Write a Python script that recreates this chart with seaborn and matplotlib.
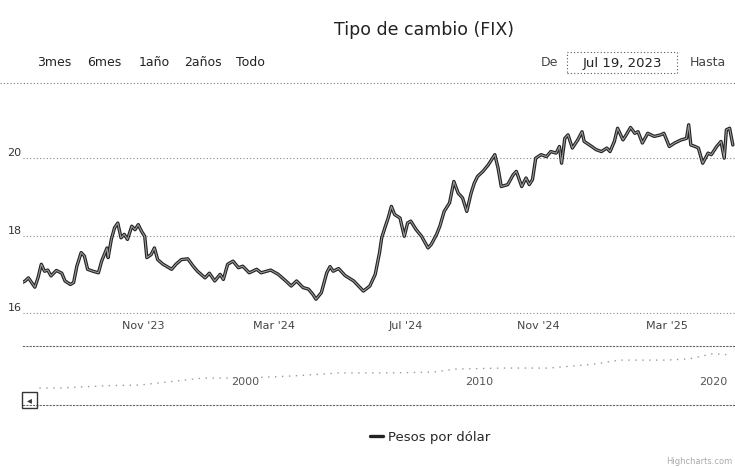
import pandas as pd
import matplotlib.pyplot as plt
import seaborn as sns
from matplotlib.patches import Rectangle
from matplotlib.lines import Line2D

# Tipo de cambio FIX (pesos por dolar)
fechas = [
    "2023-07-12", "2023-07-14", "2023-07-17", "2023-07-23", "2023-07-26", "2023-07-29",
    "2023-08-01", "2023-08-04", "2023-08-07", "2023-08-12", "2023-08-17", "2023-08-20",
    "2023-08-25", "2023-08-28", "2023-08-31", "2023-09-04", "2023-09-07", "2023-09-10",
    "2023-09-15", "2023-09-20", "2023-09-23", "2023-09-28", "2023-09-29", "2023-10-02",
    "2023-10-05", "2023-10-08", "2023-10-11", "2023-10-14", "2023-10-17", "2023-10-21",
    "2023-10-24", "2023-10-27", "2023-10-30", "2023-11-02", "2023-11-04", "2023-11-08",
    "2023-11-11", "2023-11-14", "2023-11-19", "2023-11-27", "2023-12-01", "2023-12-06",
    "2023-12-12", "2023-12-17", "2023-12-21", "2023-12-28", "2024-01-01", "2024-01-06",
    "2024-01-11", "2024-01-14", "2024-01-18", "2024-01-23", "2024-01-28", "2024-02-01",
    "2024-02-07", "2024-02-14", "2024-02-18", "2024-02-27", "2024-03-05", "2024-03-12",
    "2024-03-17", "2024-03-22", "2024-03-28", "2024-04-02", "2024-04-06", "2024-04-09",
    "2024-04-14", "2024-04-19", "2024-04-22", "2024-04-25", "2024-04-30", "2024-05-06",
    "2024-05-14", "2024-05-23", "2024-05-29", "2024-06-03", "2024-06-07", "2024-06-09",
    "2024-06-12", "2024-06-15", "2024-06-18", "2024-06-21", "2024-06-26", "2024-06-30",
    "2024-07-03", "2024-07-06", "2024-07-11", "2024-07-16", "2024-07-22", "2024-07-25",
    "2024-07-30", "2024-08-02", "2024-08-06", "2024-08-11", "2024-08-15", "2024-08-19",
    "2024-08-23", "2024-08-27", "2024-08-31", "2024-09-03", "2024-09-06", "2024-09-11",
    "2024-09-16", "2024-09-20", "2024-09-22", "2024-09-25", "2024-09-28", "2024-10-04",
    "2024-10-09", "2024-10-12", "2024-10-17", "2024-10-21", "2024-10-24", "2024-10-27",
    "2024-10-30", "2024-11-04", "2024-11-09", "2024-11-13", "2024-11-18", "2024-11-21",
    "2024-11-23", "2024-11-26", "2024-11-29", "2024-12-03", "2024-12-08", "2024-12-12",
    "2024-12-14", "2024-12-21", "2024-12-25", "2024-12-30", "2025-01-04", "2025-01-07",
    "2025-01-11", "2025-01-14", "2025-01-19", "2025-01-22", "2025-01-26", "2025-01-30",
    "2025-02-02", "2025-02-06", "2025-02-11", "2025-02-17", "2025-02-23", "2025-02-26",
    "2025-03-03", "2025-03-08", "2025-03-14", "2025-03-19", "2025-03-21", "2025-03-23",
    "2025-03-27", "2025-03-30", "2025-04-03", "2025-04-08", "2025-04-11", "2025-04-16",
    "2025-04-20", "2025-04-23", "2025-04-25", "2025-04-28", "2025-05-01",
]
pesos = [
    16.80, 16.83, 16.91, 16.67, 16.92, 17.26,
    17.08, 17.11, 16.96, 17.10, 17.03, 16.83,
    16.74, 16.79, 17.21, 17.56, 17.47, 17.13,
    17.08, 17.04, 17.34, 17.68, 17.43, 17.90,
    18.20, 18.32, 17.94, 18.03, 17.90, 18.24,
    18.15, 18.28, 18.11, 17.98, 17.43, 17.51,
    17.68, 17.38, 17.26, 17.13, 17.26, 17.38,
    17.40, 17.21, 17.08, 16.91, 17.03, 16.83,
    17.00, 16.87, 17.26, 17.34, 17.17, 17.21,
    17.04, 17.13, 17.04, 17.11, 17.00, 16.83,
    16.70, 16.83, 16.66, 16.62, 16.49, 16.36,
    16.53, 17.04, 17.20, 17.08, 17.15, 16.97,
    16.83, 16.57, 16.70, 17.00, 17.56, 17.94,
    18.20, 18.45, 18.75, 18.54, 18.45, 17.98,
    18.32, 18.37, 18.15, 17.98, 17.68, 17.77,
    18.03, 18.24, 18.62, 18.84, 19.39, 19.09,
    18.97, 18.62, 19.09, 19.35, 19.52, 19.65,
    19.82, 19.99, 20.08, 19.74, 19.26, 19.31,
    19.56, 19.65, 19.26, 19.48, 19.31, 19.44,
    19.99, 20.08, 20.03, 20.16, 20.12, 20.29,
    19.86, 20.50, 20.59, 20.25, 20.46, 20.67,
    20.42, 20.29, 20.21, 20.16, 20.25, 20.16,
    20.42, 20.76, 20.46, 20.59, 20.78, 20.63,
    20.67, 20.38, 20.63, 20.55, 20.59, 20.63,
    20.29, 20.38, 20.46, 20.50, 20.85, 20.33,
    20.29, 20.25, 19.86, 20.12, 20.08, 20.29,
    20.42, 19.99, 20.72, 20.76, 20.33,
]

# serie historica del navegador
nav_anios = [1991.2, 1992.0, 1994.0, 1995.5, 1998.2, 2000.0, 2002.0, 2004.0, 2006.0,
             2008.0, 2009.0, 2011.0, 2013.0, 2015.0, 2016.0, 2018.0, 2019.0, 2020.0, 2020.8]
nav_pesos = [6.6, 6.6, 7.5, 7.8, 10.5, 10.5, 11.3, 12.5, 12.5,
             12.8, 14.0, 14.4, 14.4, 16.0, 17.5, 17.5, 18.0, 20.0, 19.5]

x_ticks = ["2023-11-01", "2024-03-01", "2024-07-01", "2024-11-01", "2025-03-01"]
x_labels = ["Nov '23", "Mar '24", "Jul '24", "Nov '24", "Mar '25"]
y_ticks = [16, 18, 20]
nav_ticks = [2000, 2010, 2020]
botones = ["3mes", "6mes", "1año", "2años", "Todo"]

df = pd.DataFrame({"fecha": pd.to_datetime(fechas), "pesos": pesos})
nav = pd.DataFrame({"anio": nav_anios, "pesos": nav_pesos})

sns.set_theme(style="white")
plt.rcParams["font.family"] = ["DejaVu Sans"]

W, H = 735, 467
fig = plt.figure(figsize=(W / 100, H / 100), dpi=100)

def fx(px):
    return px / W

def fy(py):
    return 1 - py / H

# --- main chart ---
ax = fig.add_axes([fx(23), fy(314), fx(735 - 23), (314 - 95.6) / H])
sns.lineplot(data=df, x="fecha", y="pesos", ax=ax, color="#222222", lw=2.4, label="Pesos por dólar")
sns.lineplot(data=df, x="fecha", y="pesos", ax=ax, color="#9a9a9a", lw=0.8, legend=False)
ax.set_xlim(pd.Timestamp("2023-07-12"), pd.Timestamp("2025-05-03"))
ax.set_ylim(15.98, 21.6)
ax.set_yticks(y_ticks)
ax.set_yticklabels([str(v) for v in y_ticks], fontsize=8, color="#333333")
for lbl in ax.get_yticklabels():
    lbl.set_va("bottom")
ax.set_xticks(pd.to_datetime(x_ticks))
ax.set_xticklabels(x_labels, fontsize=8, color="#444444")
ax.tick_params(axis="both", length=0)
ax.tick_params(axis="x", pad=5)
ax.tick_params(axis="y", pad=1)
ax.grid(axis="y", color="#888888", linestyle=(0, (1, 2)), linewidth=0.8)
ax.grid(axis="x", visible=False)
ax.set_xlabel("")
ax.set_ylabel("")
for s in ax.spines.values():
    s.set_visible(False)
ax.legend(loc="center", bbox_to_anchor=(fx(430), fy(437)), bbox_transform=fig.transFigure,
          frameon=False, handlelength=1.0, fontsize=9.5, handletextpad=0.4)

# --- navigator ---
axn = fig.add_axes([fx(23), fy(405), fx(735 - 23), (405 - 346) / H])
sns.lineplot(data=nav, x="anio", y="pesos", ax=axn, color="#999999", lw=1.0,
             linestyle=(0, (1, 4)))
axn.set_xlim(1990.5, 2020.95)
axn.set_ylim(0, 23)
axn.set_yticks([])
axn.set_xticks(nav_ticks)
axn.set_xticklabels([str(v) for v in nav_ticks], fontsize=8, color="#555555")
axn.tick_params(axis="x", length=0, pad=-20)
axn.set_xlabel("")
axn.set_ylabel("")
for side in ["left", "right"]:
    axn.spines[side].set_visible(False)
for side in ["top", "bottom"]:
    axn.spines[side].set_linestyle((0, (1, 2)))
    axn.spines[side].set_color("#666666")
    axn.spines[side].set_linewidth(0.8)

# scrollbar button
fig.patches.append(Rectangle((fx(22), fy(408)), 15 / W, 16 / H, fill=False, ec="#333333",
                             lw=1.0, transform=fig.transFigure))
fig.text(fx(29.5), fy(400), "◂", ha="center", va="center", fontsize=7, color="#333333")

# --- title and range selector ---
fig.text(fx(424), fy(30), "Tipo de cambio (FIX)", ha="center", va="center",
         fontsize=12.5, color="#222222")
for b, cx in zip(botones, [54, 104, 154, 203, 250]):
    fig.text(fx(cx), fy(63), b, ha="center", va="center", fontsize=9, color="#222222")
fig.text(fx(549), fy(63), "De", ha="center", va="center", fontsize=9, color="#444444")
fig.patches.append(Rectangle((fx(567), fy(73)), 110 / W, 21 / H, fill=False, ec="#555555",
                             lw=0.8, ls=(0, (1, 2)), transform=fig.transFigure))
fig.text(fx(622), fy(63), "Jul 19, 2023", ha="center", va="center", fontsize=9.5, color="#222222")
fig.text(fx(708), fy(63), "Hasta", ha="center", va="center", fontsize=9, color="#444444")
fig.add_artist(Line2D([0, 1], [fy(83), fy(83)], transform=fig.transFigure,
                      color="#777777", lw=0.8, ls=(0, (1, 2))))

# credits
fig.text(fx(666), fy(461), "Highcharts.com", ha="left", va="center", fontsize=6, color="#aaaaaa")

fig.savefig("out.png", dpi=100)
